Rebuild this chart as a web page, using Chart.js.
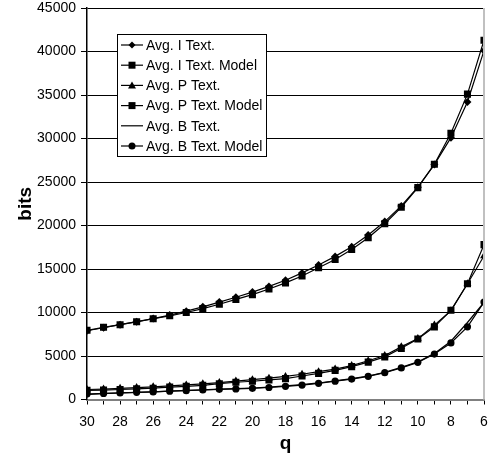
<!DOCTYPE html>
<html>
<head>
<meta charset="utf-8">
<script src="https://cdn.jsdelivr.net/npm/chart.js@4/dist/chart.umd.min.js"></script>
<style>
  html, body { margin: 0; padding: 0; background: #fff; }
  #wrap { width: 497px; height: 459px; }
</style>
</head>
<body>
<div id="wrap"><canvas id="chart" width="497" height="459"></canvas></div>
<script>
const qValues = [30, 29, 28, 27, 26, 25, 24, 23, 22, 21, 20, 19, 18, 17, 16, 15, 14, 13, 12, 11, 10, 9, 8, 7, 6];

const avgIText = [7900, 8250, 8600, 8950, 9300, 9700, 10150, 10650, 11200, 11750, 12350, 13000, 13700, 14550, 15450, 16450, 17550, 18900, 20450, 22250, 24400, 27000, 30100, 34200, 40100];
const avgITextModel = [7950, 8300, 8600, 8930, 9280, 9620, 10000, 10450, 10950, 11500, 12050, 12700, 13400, 14200, 15150, 16100, 17250, 18600, 20200, 22100, 24350, 27050, 30600, 35100, 41300];
const avgPText = [1150, 1200, 1280, 1370, 1460, 1560, 1680, 1800, 1950, 2120, 2280, 2450, 2650, 2900, 3200, 3500, 3900, 4450, 5050, 6050, 7000, 8550, 10200, 13300, 16500];
const avgPTextModel = [1050, 1080, 1150, 1230, 1300, 1420, 1520, 1620, 1820, 1980, 2100, 2250, 2400, 2700, 3000, 3350, 3780, 4300, 4900, 5880, 6950, 8350, 10250, 13300, 17800];
const avgBText = [600, 680, 750, 820, 880, 970, 1040, 1110, 1190, 1250, 1320, 1420, 1560, 1710, 1900, 2150, 2400, 2700, 3120, 3700, 4320, 5300, 6700, 8850, 11150];
const avgBTextModel = [620, 700, 760, 820, 870, 960, 1020, 1090, 1170, 1220, 1280, 1380, 1510, 1660, 1860, 2110, 2350, 2660, 3080, 3630, 4270, 5220, 6500, 8350, 11200];

const seriesNames = ["Avg. I Text.", "Avg. I Text. Model", "Avg. P Text.", "Avg. P Text. Model", "Avg. B Text.", "Avg. B Text. Model"];
const yTicks = [0, 5000, 10000, 15000, 20000, 25000, 30000, 35000, 40000, 45000];

const FONT = "'Liberation Sans', Arial, sans-serif";

function toPoints(values) {
    return qValues.map((q, i) => ({ x: q, y: values[i] }));
}

function makeSet(label, values, style, radius) {
    return {
        label: label,
        data: toPoints(values),
        borderColor: "#000",
        backgroundColor: "#000",
        borderWidth: 1.2,
        pointStyle: style,
        pointRadius: radius,
        pointBorderWidth: 0,
        tension: 0
    };
}

// legend drawn inside the plot area, like the original figure
const boxLegend = {
    id: "boxLegend",
    afterDraw(chart) {
        const ctx = chart.ctx;
        const area = chart.chartArea;
        const x0 = area.left + 30;
        const y0 = area.top + 26;
        const rowH = 20.2;
        ctx.save();
        ctx.font = "14px " + FONT;
        let textW = 0;
        chart.data.datasets.forEach(ds => {
            textW = Math.max(textW, ctx.measureText(ds.label).width);
        });
        const boxW = 29 + textW + 4;
        const boxH = rowH * chart.data.datasets.length + 1;
        ctx.fillStyle = "#fff";
        ctx.fillRect(x0, y0, boxW, boxH);
        ctx.strokeStyle = "#000";
        ctx.lineWidth = 1;
        ctx.strokeRect(Math.round(x0) + 0.5, Math.round(y0) + 0.5, Math.round(boxW), Math.round(boxH));

        chart.data.datasets.forEach((ds, i) => {
            const cy = y0 + 11 + i * rowH;
            ctx.strokeStyle = "#000";
            ctx.lineWidth = 1.2;
            ctx.beginPath();
            ctx.moveTo(x0 + 4, cy);
            ctx.lineTo(x0 + 26, cy);
            ctx.stroke();
            const cx = x0 + 15;
            ctx.fillStyle = "#000";
            ctx.beginPath();
            if (ds.pointRadius > 0) {
                if (ds.pointStyle === "rect") {
                    ctx.rect(cx - 3.5, cy - 3.5, 7, 7);
                } else if (ds.pointStyle === "rectRot") {
                    ctx.moveTo(cx, cy - 3.5);
                    ctx.lineTo(cx + 3.5, cy);
                    ctx.lineTo(cx, cy + 3.5);
                    ctx.lineTo(cx - 3.5, cy);
                    ctx.closePath();
                } else if (ds.pointStyle === "triangle") {
                    ctx.moveTo(cx, cy - 4);
                    ctx.lineTo(cx + 4, cy + 3);
                    ctx.lineTo(cx - 4, cy + 3);
                    ctx.closePath();
                } else {
                    ctx.arc(cx, cy, 3.5, 0, Math.PI * 2);
                }
                ctx.fill();
            }
            ctx.fillStyle = "#000";
            ctx.textBaseline = "middle";
            ctx.textAlign = "left";
            ctx.fillText(ds.label, x0 + 29, cy + 1);
        });
        ctx.restore();
    }
};

// light grey right border of the plot
const rightBorder = {
    id: "rightBorder",
    afterDatasetsDraw(chart) {
        const ctx = chart.ctx;
        const a = chart.chartArea;
        ctx.save();
        ctx.strokeStyle = "#c0c0c0";
        ctx.lineWidth = 2;
        ctx.beginPath();
        ctx.moveTo(a.right, a.top);
        ctx.lineTo(a.right, a.bottom);
        ctx.stroke();
        ctx.restore();
    }
};

const ctx = document.getElementById("chart").getContext("2d");
new Chart(ctx, {
    type: "line",
    data: {
        datasets: [
            makeSet(seriesNames[0], avgIText, "rectRot", 4),
            makeSet(seriesNames[1], avgITextModel, "rect", 5),
            makeSet(seriesNames[2], avgPText, "triangle", 4.5),
            makeSet(seriesNames[3], avgPTextModel, "rect", 5),
            makeSet(seriesNames[4], avgBText, "circle", 0),
            makeSet(seriesNames[5], avgBTextModel, "circle", 3.6)
        ]
    },
    options: {
        responsive: false,
        animation: false,
        layout: { padding: { left: 4, right: 13, top: 8, bottom: 2 } },
        plugins: {
            legend: { display: false },
            tooltip: { enabled: false }
        },
        scales: {
            x: {
                type: "linear",
                reverse: true,
                min: 6,
                max: 30,
                afterFit: scale => { scale.height = 57.5; },
                grid: {
                    drawOnChartArea: false,
                    drawTicks: true,
                    tickLength: 5,
                    color: "#000"
                },
                border: { color: "#808080", width: 2 },
                ticks: {
                    stepSize: 1,
                    autoSkip: false,
                    maxRotation: 0,
                    color: "#000",
                    font: { family: FONT, size: 14 },
                    padding: 9,
                    callback: v => (v % 2 === 0 ? String(v) : "")
                },
                title: {
                    display: true,
                    text: "q",
                    color: "#000",
                    font: { family: FONT, size: 19, weight: "bold" },
                    padding: { top: 2, bottom: 2 }
                }
            },
            y: {
                min: 0,
                max: 45000,
                afterFit: scale => {
                    scale.width = 83;
                    scale.paddingTop = 0;
                    scale.paddingBottom = 0;
                },
                afterBuildTicks: scale => {
                    scale.ticks = yTicks.map(v => ({ value: v }));
                },
                grid: {
                    color: "#000",
                    lineWidth: 1,
                    drawTicks: true,
                    tickLength: 6
                },
                border: { color: "#000", width: 1.5 },
                ticks: {
                    color: "#000",
                    font: { family: FONT, size: 14 },
                    padding: 5,
                    callback: v => String(v)
                },
                title: {
                    display: true,
                    text: "bits",
                    color: "#000",
                    font: { family: FONT, size: 19, weight: "bold" },
                    padding: { top: 10, bottom: 0 }
                }
            }
        }
    },
    plugins: [rightBorder, boxLegend]
});
</script>
</body>
</html>
